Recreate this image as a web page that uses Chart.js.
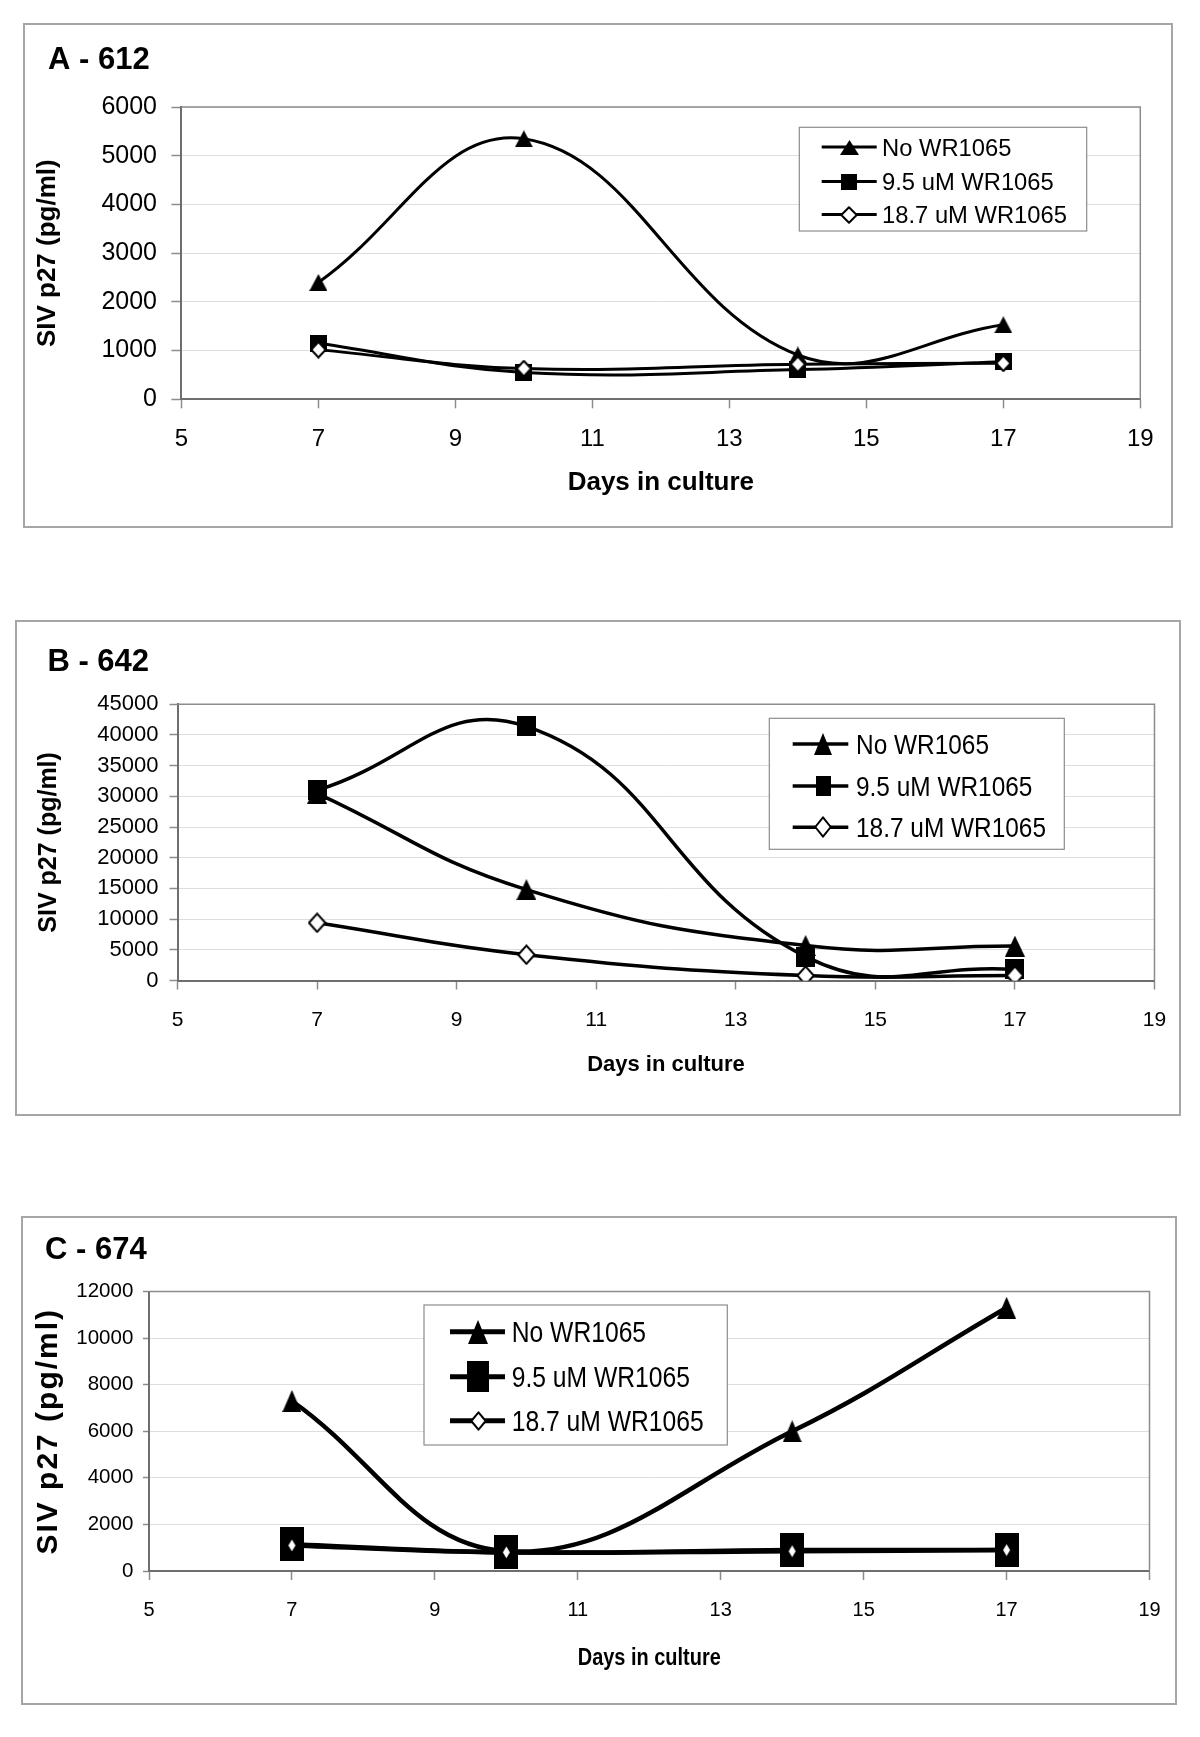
<!DOCTYPE html>
<html><head><meta charset="utf-8">
<script src="https://cdn.jsdelivr.net/npm/chart.js@4.4.1/dist/chart.umd.min.js"></script>
<style>
html,body{margin:0;padding:0;background:#fff;}
body{width:1200px;height:1737px;position:relative;overflow:hidden;}
.panel{position:absolute;border:2px solid #a6a6a6;box-sizing:border-box;}
canvas{position:absolute;left:0;}
</style></head><body>
<div class="panel" id="boxA"></div>
<div class="panel" id="boxB"></div>
<div class="panel" id="boxC"></div>
<canvas id="cA"></canvas>
<canvas id="cB"></canvas>
<canvas id="cC"></canvas>
<script>
// ---------------- DATA ----------------
const days = [7, 10, 14, 17];
const seriesNames = ['No WR1065', '9.5 uM WR1065', '18.7 uM WR1065'];
const xTickValues = [5, 7, 9, 11, 13, 15, 17, 19];
const xAxisTitle = 'Days in culture';
const yAxisTitle = 'SIV p27 (pg/ml)';

const titleA = 'A - 612';
const noWR_A = [2400, 5350, 910, 1530];
const uM95_A = [1150, 550, 610, 770];
const uM187_A = [1020, 630, 720, 740];
const yTicksA = [0, 1000, 2000, 3000, 4000, 5000, 6000];

const titleB = 'B - 642';
const noWR_B = [30500, 14800, 5700, 5600];
const uM95_B = [31000, 41400, 3900, 1800];
const uM187_B = [9400, 4200, 800, 800];
const yTicksB = [0, 5000, 10000, 15000, 20000, 25000, 30000, 35000, 40000, 45000];

const titleC = 'C - 674';
const noWR_C = [7300, 850, 6000, 11300];
const uM95_C = [1150, 800, 900, 900];
const uM187_C = [1100, 800, 850, 900];
const yTicksC = [0, 2000, 4000, 6000, 8000, 10000, 12000];

// ---------------- FONTS ----------------
const SANS = '"Liberation Sans", Arial, sans-serif';

// ---------------- LAYOUT / STYLE ----------------
const layoutA = {
  box: [23, 23, 1172.5, 528], plot: [181.4, 107.1, 1140.3, 399.3],
  title: {x: 48, y: 69, size: 31},
  yTitle: {size: 26, cx: 47.7}, xTitle: {size: 26, cy: 483},
  yTick: {size: 25, len: 10, right: 157},
  xTick: {size: 24, len: 9, cy: 439},
  lineWidth: 3, tension: 0.4,
  markers: {tri: [18, 17], sq: [17, 17], dia: [17, 18, 2]},
  legend: {box: [799.3, 127.3, 1086.7, 231], rows: [147, 181.5, 214.5], line: [821.7, 876.7], mx: 849, tx: 882,
           size: 24, textW: 185, lw: 3, markers: {tri: [19, 15], sq: [16, 16], dia: [18, 18, 2]}}
};
const layoutB = {
  box: [15.3, 619.6, 1181, 1116.5], plot: [177.5, 704.3, 1154.5, 980.5],
  title: {x: 47.4, y: 670.6, size: 31},
  yTitle: {size: 25, cx: 49}, xTitle: {size: 22, cy: 1065},
  yTick: {size: 22, len: 8, right: 158.4},
  xTick: {size: 21, len: 9, cy: 1020},
  lineWidth: 3.5, tension: 0.45,
  markers: {tri: [20, 21], sq: [19, 20], dia: [19, 21, 2]},
  legend: {box: [769.3, 718.3, 1064.3, 849.3], rows: [744, 786, 827.3], line: [792.7, 848.3], mx: 823.3, tx: 856,
           size: 28, textW: 190, lw: 3.5, markers: {tri: [18, 22], sq: [15, 20], dia: [18, 22, 2]}}
};
const layoutC = {
  box: [20.7, 1216, 1177, 1705], plot: [149, 1291.5, 1149.5, 1571],
  title: {x: 45, y: 1259, size: 31},
  yTitle: {size: 30, cx: 48.3, spacing: 2}, xTitle: {size: 23, cy: 1659, width: 143},
  yTick: {size: 20.5, len: 6, right: 133.3},
  xTick: {size: 20, len: 9, cy: 1610},
  lineWidth: 4.5, tension: 0.4,
  markers: {tri: [19, 22], sq: [24, 34], dia: [11, 17, 1.5]},
  legend: {box: [424, 1305, 727.3, 1445], rows: [1331.7, 1376.7, 1420.7], line: [450, 505], mx: 478.3, tx: 511.7,
           size: 29, textW: 192, lw: 5, markers: {tri: [20, 24], sq: [22, 31], dia: [17, 20, 2]}}
};

// ---------------- MARKERS ----------------
function mk(shape, spec) {
  const [w, h, lw] = spec;
  const c = document.createElement('canvas'); c.width = w; c.height = h;
  const g = c.getContext('2d');
  if (shape === 'tri') {
    g.fillStyle = '#000'; g.beginPath(); g.moveTo(w / 2, 0); g.lineTo(w, h); g.lineTo(0, h); g.closePath(); g.fill();
  } else if (shape === 'sq') {
    g.fillStyle = '#000'; g.fillRect(0, 0, w, h);
  } else {
    const p = lw / 2 + 0.3;
    g.fillStyle = '#fff'; g.strokeStyle = '#000'; g.lineWidth = lw; g.lineJoin = 'round';
    g.beginPath(); g.moveTo(w / 2, p); g.lineTo(w - p, h / 2); g.lineTo(w / 2, h - p); g.lineTo(p, h / 2); g.closePath();
    g.fill(); g.stroke();
  }
  return c;
}

const plotFrame = {
  id: 'plotFrame',
  beforeDatasetsDraw(chart) {
    const {ctx, chartArea: a} = chart;
    ctx.save(); ctx.strokeStyle = '#8c8c8c'; ctx.lineWidth = 1.5;
    ctx.beginPath(); ctx.moveTo(a.left, a.top); ctx.lineTo(a.right, a.top); ctx.lineTo(a.right, a.bottom); ctx.stroke();
    ctx.restore();
  }
};

function makePanel(id, boxId, L, title, s0, s1, s2, yTicks) {
  const [bx0, by0, bx1, by1] = L.box;
  const box = document.getElementById(boxId);
  box.style.left = bx0 + 'px'; box.style.top = by0 + 'px';
  box.style.width = (bx1 - bx0) + 'px'; box.style.height = (by1 - by0) + 'px';
  const top = Math.round(by0), bottom = Math.round(by1);
  const cv = document.getElementById(id);
  cv.width = 1200; cv.height = bottom - top; cv.style.top = top + 'px';
  const [pl, pt, pr, pb] = L.plot;
  const pts = arr => days.map((d, i) => ({x: d, y: arr[i]}));
  const pm = {tri: mk('tri', L.markers.tri), sq: mk('sq', L.markers.sq), dia: mk('dia', L.markers.dia)};
  const lgm = [mk('tri', L.legend.markers.tri), mk('sq', L.legend.markers.sq), mk('dia', L.legend.markers.dia)];
  const customYTitle = L.yTitle.spacing !== undefined;
  const customXTitle = L.xTitle.width !== undefined;
  const ds = (i, arr, style, order) => ({
    label: seriesNames[i], data: pts(arr), borderColor: '#000', backgroundColor: '#000',
    borderWidth: L.lineWidth, tension: L.tension, capBezierPoints: false,
    borderJoinStyle: 'round', borderCapStyle: 'round',
    pointStyle: style, pointRadius: 8, pointHoverRadius: 8, order: order, fill: false
  });
  const decor = {
    id: 'decor',
    afterDraw(chart) {
      const ctx = chart.ctx;
      const a = chart.chartArea;
      ctx.save();
      // panel title
      ctx.fillStyle = '#000'; ctx.font = 'bold ' + L.title.size + 'px ' + SANS;
      ctx.textBaseline = 'alphabetic'; ctx.textAlign = 'left';
      ctx.fillText(title, L.title.x, L.title.y - top);
      // letter-spaced y-axis title
      if (customYTitle) {
        ctx.save();
        ctx.translate(L.yTitle.cx, (a.top + a.bottom) / 2);
        ctx.rotate(-Math.PI / 2);
        ctx.font = 'bold ' + L.yTitle.size + 'px ' + SANS;
        ctx.letterSpacing = L.yTitle.spacing + 'px';
        ctx.textAlign = 'center'; ctx.textBaseline = 'middle'; ctx.fillStyle = '#000';
        ctx.fillText(yAxisTitle, 0, 0);
        ctx.restore();
      }
      // condensed x-axis title
      if (customXTitle) {
        ctx.save();
        ctx.font = 'bold ' + L.xTitle.size + 'px ' + SANS;
        const k = L.xTitle.width / ctx.measureText(xAxisTitle).width;
        ctx.translate((a.left + a.right) / 2, L.xTitle.cy - top);
        ctx.scale(k, 1);
        ctx.textAlign = 'center'; ctx.textBaseline = 'middle'; ctx.fillStyle = '#000';
        ctx.fillText(xAxisTitle, 0, 0);
        ctx.restore();
      }
      // legend
      const lg = L.legend;
      const [x0, y0, x1, y1] = lg.box;
      ctx.fillStyle = '#fff'; ctx.fillRect(x0, y0 - top, x1 - x0, y1 - y0);
      ctx.strokeStyle = '#8c8c8c'; ctx.lineWidth = 1.2; ctx.strokeRect(x0, y0 - top, x1 - x0, y1 - y0);
      ctx.font = lg.size + 'px ' + SANS;
      const sx = lg.textW / ctx.measureText(seriesNames[2]).width;
      seriesNames.forEach((name, i) => {
        const y = lg.rows[i] - top;
        ctx.strokeStyle = '#000'; ctx.lineWidth = lg.lw;
        ctx.beginPath(); ctx.moveTo(lg.line[0], y); ctx.lineTo(lg.line[1], y); ctx.stroke();
        const m = lgm[i];
        ctx.drawImage(m, Math.round(lg.mx - m.width / 2), Math.round(y - m.height / 2));
        ctx.save(); ctx.translate(lg.tx, y + 0.358 * lg.size); ctx.scale(sx, 1);
        ctx.fillStyle = '#000'; ctx.textBaseline = 'alphabetic'; ctx.fillText(name, 0, 0);
        ctx.restore();
      });
      ctx.restore();
    }
  };
  return new Chart(cv, {
    type: 'line',
    data: {datasets: [ds(0, s0, pm.tri, 2), ds(1, s1, pm.sq, 1), ds(2, s2, pm.dia, 0)]},
    options: {
      responsive: false, maintainAspectRatio: false, animation: false, devicePixelRatio: 1,
      layout: {padding: {left: 0, right: 1200 - pr, top: pt - top, bottom: 0}},
      plugins: {legend: {display: false}, tooltip: {enabled: false}, title: {display: false}},
      events: [],
      scales: {
        x: {
          type: 'linear', position: 'bottom', min: xTickValues[0], max: xTickValues[xTickValues.length - 1],
          afterBuildTicks: s => { s.ticks = xTickValues.map(v => ({value: v})); },
          afterFit: s => { s.height = bottom - pb; },
          grid: {display: true, drawOnChartArea: false, drawTicks: true, tickLength: L.xTick.len, tickColor: '#8c8c8c', tickWidth: 1.5},
          border: {display: true, color: '#6e6e6e', width: 2},
          ticks: {font: {family: SANS, size: L.xTick.size}, color: '#000', maxRotation: 0, autoSkip: false,
                  padding: L.xTick.cy - pb - L.xTick.len - 0.6 * L.xTick.size, callback: v => String(v)},
          title: {display: !customXTitle, text: xAxisTitle, color: '#000',
                  font: {family: SANS, size: L.xTitle.size, weight: 'bold'},
                  padding: {top: 0, bottom: bottom - L.xTitle.cy - 0.6 * L.xTitle.size}}
        },
        y: {
          type: 'linear', position: 'left', min: yTicks[0], max: yTicks[yTicks.length - 1],
          afterBuildTicks: s => { s.ticks = yTicks.map(v => ({value: v})); },
          afterFit: s => { s.width = pl; },
          grid: {color: '#dedede', lineWidth: 1, drawTicks: true, tickLength: L.yTick.len, tickColor: '#8c8c8c', tickWidth: 1.5},
          border: {display: true, color: '#6e6e6e', width: 2},
          ticks: {font: {family: SANS, size: L.yTick.size}, color: '#000',
                  padding: pl - L.yTick.len - L.yTick.right, callback: v => String(v)},
          title: {display: !customYTitle, text: yAxisTitle, color: '#000',
                  font: {family: SANS, size: L.yTitle.size, weight: 'bold'},
                  padding: {top: L.yTitle.cx - 0.6 * L.yTitle.size, bottom: 0}}
        }
      }
    },
    plugins: [plotFrame, decor]
  });
}

makePanel('cA', 'boxA', layoutA, titleA, noWR_A, uM95_A, uM187_A, yTicksA);
makePanel('cB', 'boxB', layoutB, titleB, noWR_B, uM95_B, uM187_B, yTicksB);
makePanel('cC', 'boxC', layoutC, titleC, noWR_C, uM95_C, uM187_C, yTicksC);
</script>
</body></html>
